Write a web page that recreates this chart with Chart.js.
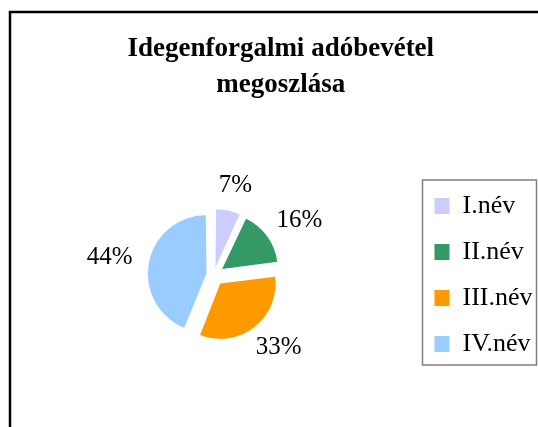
<!DOCTYPE html>
<html>
<head>
<meta charset="utf-8">
<script src="https://cdn.jsdelivr.net/npm/chart.js@4"></script>
<style>
  html, body { margin: 0; padding: 0; background: #fff; }
  #wrap { width: 538px; height: 427px; position: relative; }
</style>
</head>
<body>
<div id="wrap"><canvas id="chart"></canvas></div>
<script>
// adatok
const title_lines = ['Idegenforgalmi adóbevétel', 'megoszlása'];
const categories = ['I.név', 'II.név', 'III.név', 'IV.név'];
const values = [7, 16, 33, 44];
const colors = ['#CCCCFF', '#339966', '#FF9900', '#99CCFF'];

const serif = "'Liberation Serif', 'Times New Roman', serif";
const explode = 12; // kirobbantás pixelben

// a Chart.js ív eltolása a szelet szögétől függ, ezt visszaszámoljuk
function arcShift(offset, circumference) {
  const fix = 1 - Math.sin(Math.min(Math.PI, circumference));
  return offset / 4 * (1 + fix);
}

function offsetFor(ctx) {
  const data = ctx.dataset.data;
  const sum = data.reduce((a, b) => a + b, 0);
  const circ = data[ctx.dataIndex] / sum * Math.PI * 2;
  return explode / arcShift(1, circ);
}

// keret a diagram körül
const framePlugin = {
  id: 'frame',
  beforeDraw: (chart) => {
    const ctx = chart.ctx;
    ctx.save();
    ctx.fillStyle = '#fff';
    ctx.fillRect(0, 0, chart.width, chart.height);
    ctx.strokeStyle = '#000';
    ctx.lineWidth = 2.5;
    ctx.strokeRect(10, 12, chart.width + 40, chart.height + 40);
    ctx.restore();
  },
  afterLayout: (chart) => {
    // a cím kicsit jobbra áll az eredetiben
    chart.titleBlock.left += 3;
    chart.titleBlock.right += 3;
  },
  afterDraw: (chart) => {
    const ctx = chart.ctx;
    const hb = chart.legend.legendHitBoxes;
    if (!hb || !hb.length) return;
    const left = hb[0].left - 12;
    const top = hb[0].top - 13;
    const bottom = hb[hb.length - 1].top + 34;
    ctx.save();
    ctx.strokeStyle = '#808080';
    ctx.lineWidth = 1.5;
    ctx.strokeRect(left, top, chart.width - 1.5 - left, bottom - top);
    ctx.restore();
  },
};

// százalékos címkék a szeletek mellett
const labelPlugin = {
  id: 'pctlabels',
  afterDatasetsDraw: (chart) => {
    const ctx = chart.ctx;
    const meta = chart.getDatasetMeta(0);
    const data = chart.data.datasets[0].data;
    const sum = data.reduce((a, b) => a + b, 0);
    ctx.save();
    ctx.font = `25px ${serif}`;
    ctx.fillStyle = '#000';
    ctx.textAlign = 'center';
    ctx.textBaseline = 'middle';
    meta.data.forEach((arc, i) => {
      const p = arc.getProps(['x', 'y', 'startAngle', 'endAngle', 'outerRadius'], true);
      const mid = (p.startAngle + p.endAngle) / 2;
      const dx = Math.cos(mid);
      const dy = Math.sin(mid);
      const text = Math.round(data[i] / sum * 100) + '%';
      const w = ctx.measureText(text).width;
      const shift = arcShift(arc.options.offset, p.endAngle - p.startAngle);
      const dist = p.outerRadius + shift + 17;
      const x = p.x + dx * dist + dx * w / 2;
      const y = p.y + dy * dist + dy * 9;
      ctx.fillText(text, x, y);
    });
    ctx.restore();
  },
};

new Chart(document.getElementById('chart'), {
  type: 'pie',
  data: {
    labels: categories,
    datasets: [{
      data: values,
      backgroundColor: colors,
      borderWidth: 0,
      offset: offsetFor,
      hoverOffset: 0,
      radius: 54,
    }],
  },
  options: {
    responsive: true,
    maintainAspectRatio: false,
    animation: false,
    layout: {
      padding: { left: 13, right: -4.5, top: 0, bottom: 0 },
    },
    plugins: {
      title: {
        display: true,
        text: title_lines,
        color: '#000',
        font: { family: serif, size: 27, weight: 'bold', lineHeight: 36 / 27 },
        padding: { top: 31, bottom: 20 },
      },
      legend: {
        position: 'right',
        fullSize: false,
        labels: {
          color: '#000',
          font: { family: serif, size: 26 },
          boxWidth: 15,
          boxHeight: 16,
          padding: 20,
        },
      },
      tooltip: { enabled: false },
    },
  },
  plugins: [framePlugin, labelPlugin],
});
</script>
</body>
</html>
